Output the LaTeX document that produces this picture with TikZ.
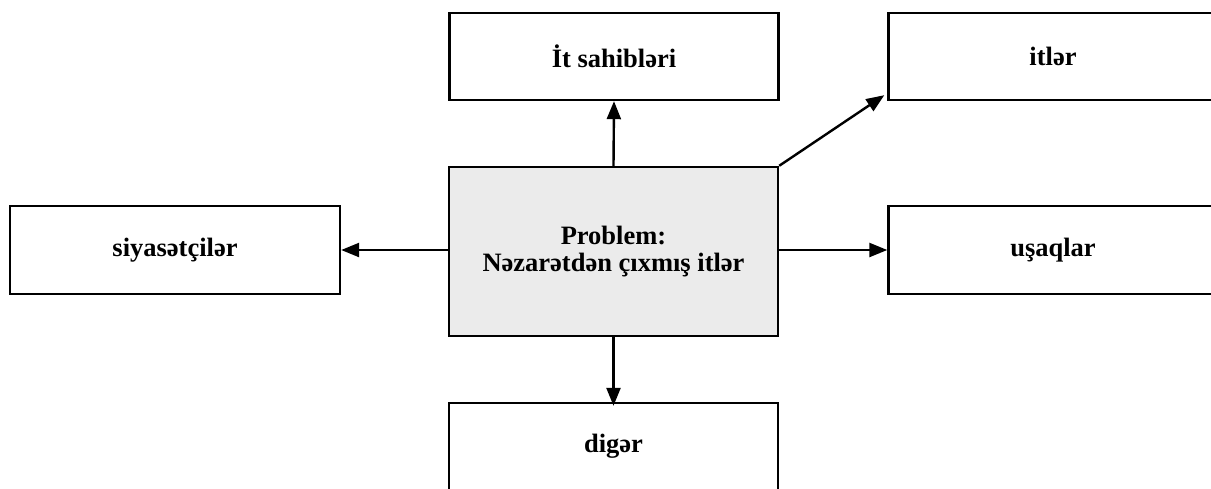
\documentclass[tikz,border=0pt]{standalone}
\usepackage{fontspec}
\setmainfont{Liberation Serif}
\usetikzlibrary{arrows.meta}
\begin{document}
\begin{tikzpicture}[x=1pt,y=-1pt,
  box/.style={draw=black,line width=2.4pt,rectangle,minimum width=329pt,minimum height=87pt,inner sep=0pt,
    font=\fontsize{26.5}{27.5}\selectfont\bfseries,align=center},
  conn/.style={line width=2.4pt,-{Triangle[length=18pt,width=14pt]}}]
\useasboundingbox (0,0) rectangle (1211,488);
\node[box] (own) at (614,56.5) {İt sahibləri};
\node[box] (dog) at (1053,56.5) {itlər};
\node[box,minimum width=330pt,minimum height=88pt] (pol) at (175,250) {siyasətçilər};
\node[box,minimum height=88pt] (kid) at (1053,250) {uşaqlar};
\node[box,fill={rgb,255:red,235;green,235;blue,235},minimum height=169pt] (prob) at (613.5,251.5) {Problem:\\Nəzarətdən çıxmış itlər};
\node[box] (oth) at (613.5,446.5) {digər};
\draw[conn] (prob.north) -- (own.south);
\draw[conn] (prob.north east) -- ([shift={(-3pt,6pt)}]dog.south west);
\draw[conn] (prob.west |- pol.east) -- (pol.east);
\draw[conn] (prob.east |- kid.west) -- (kid.west);
\draw[conn] (prob.south) -- ([yshift=-4pt]oth.north);
\end{tikzpicture}
\end{document}
